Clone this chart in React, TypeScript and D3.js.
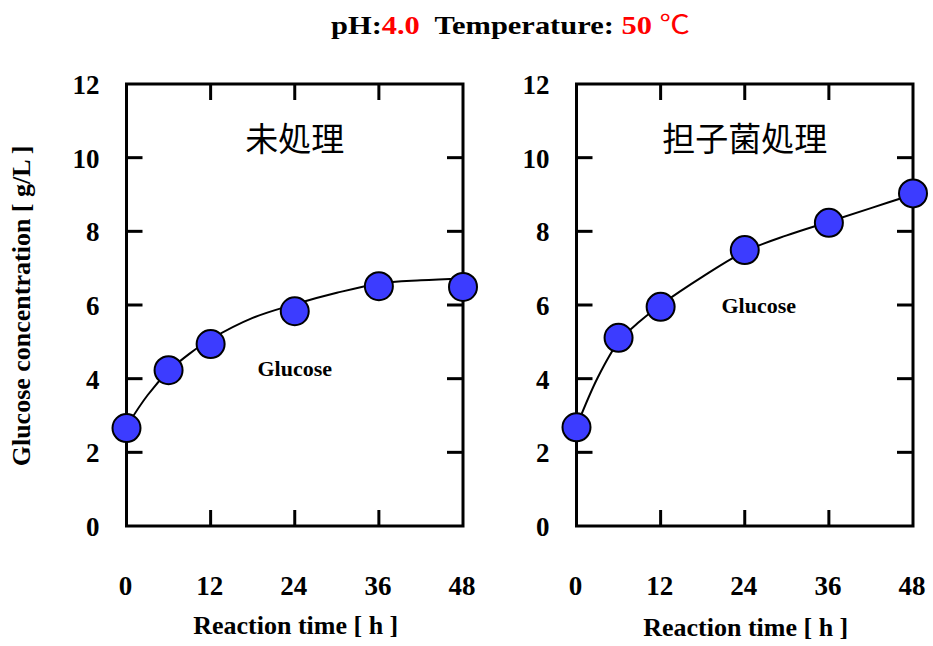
import React from "react";
import * as d3 from "d3";

// measured hours and glucose (g/L)
const hours = [0, 6, 12, 24, 36, 48];
const untreated = [2.66, 4.23, 4.94, 5.83, 6.51, 6.49];
const basidio = [2.68, 5.11, 5.95, 7.49, 8.23, 9.03];

// fitted curves
const fitHours = [0, 3, 6, 9, 12, 18, 24, 30, 36, 42, 48];
const untreatedFit = [2.7, 3.55, 4.2, 4.68, 5.07, 5.65, 6.02, 6.33, 6.58, 6.67, 6.72];
const basidioFit = [2.7, 4.02, 5.0, 5.55, 6.0, 6.77, 7.45, 7.89, 8.26, 8.63, 9.0];

const xTicks = [0, 12, 24, 36, 48];
const yTicks = [0, 2, 4, 6, 8, 10, 12];
const panelTitles = ["未処理", "担子菌処理"];

const W = 933;
const H = 646;
const serif = "'Liberation Serif', 'Times New Roman', serif";
const cjk = "'Noto Sans CJK JP', sans-serif";

const panels = [
  { title: panelTitles[0], left: 126.5, values: untreated, fit: untreatedFit, label: [24, 4.07], axisTitleY: 634 },
  { title: panelTitles[1], left: 576.5, values: basidio, fit: basidioFit, label: [26, 5.78], axisTitleY: 636 },
];

const Panel = ({ p }) => {
  const x = d3.scaleLinear().domain([0, 48]).range([p.left, p.left + 336.5]);
  const y = d3.scaleLinear().domain([0, 12]).range([526, 84]);
  const line = d3
    .line()
    .x((d, i) => x(fitHours[i]))
    .y(d => y(d))
    .curve(d3.curveCatmullRom);
  const [x0, x1] = x.range();
  const [y0, y1] = y.range();
  const tickLen = 16;

  return (
    <g>
      <rect x={x0} y={y1} width={x1 - x0} height={y0 - y1} fill="none" stroke="#000" strokeWidth={3} />
      {xTicks.slice(1, -1).map(t => (
        <g key={"xt" + t} stroke="#000" strokeWidth={3}>
          <line x1={x(t)} x2={x(t)} y1={y0} y2={y0 - tickLen} />
          <line x1={x(t)} x2={x(t)} y1={y1} y2={y1 + tickLen} />
        </g>
      ))}
      {yTicks.slice(1, -1).map(t => (
        <g key={"yt" + t} stroke="#000" strokeWidth={3}>
          <line x1={x0} x2={x0 + tickLen} y1={y(t)} y2={y(t)} />
          <line x1={x1} x2={x1 - tickLen} y1={y(t)} y2={y(t)} />
        </g>
      ))}
      {xTicks.map(t => (
        <text key={"xl" + t} x={x(t) - 1} y={y0 + 60} textAnchor="middle" dominantBaseline="central"
          fontFamily={serif} fontWeight="bold" fontSize={27}>{t}</text>
      ))}
      {yTicks.map(t => (
        <text key={"yl" + t} x={x0 - 27} y={y(t) + 1} textAnchor="end" dominantBaseline="central"
          fontFamily={serif} fontWeight="bold" fontSize={27}>{t}</text>
      ))}
      <path d={line(p.fit)} fill="none" stroke="#000" strokeWidth={2} />
      {p.values.map((v, i) => (
        <circle key={i} cx={x(hours[i])} cy={y(v)} r={14} fill="#3c3cff" stroke="#000" strokeWidth={2} />
      ))}
      <text x={x(24)} y={y(10.56)} textAnchor="middle" dominantBaseline="central"
        fontFamily={cjk} fontSize={33}>{p.title}</text>
      <text x={x(p.label[0])} y={y(p.label[1])} textAnchor="middle"
        fontFamily={serif} fontWeight="bold" fontSize={22}>Glucose</text>
      <text x={x(24) + 1} y={p.axisTitleY} textAnchor="middle"
        fontFamily={serif} fontWeight="bold" fontSize={26}>Reaction time [ h ]</text>
    </g>
  );
};

const App = () => (
  <svg width={W} height={H} style={{ position: "absolute", left: 0, top: 0, background: "#fff" }}>
    <text x={510.5} y={34} textAnchor="middle" fontFamily={serif} fontWeight="bold" fontSize={26}
      textLength={359} lengthAdjust="spacingAndGlyphs">
      <tspan>pH:</tspan>
      <tspan fill="#ff0000">4.0</tspan>
      <tspan xmlSpace="preserve">  Temperature: </tspan>
      <tspan fill="#ff0000">50 </tspan>
      <tspan fill="#ff0000" fontWeight="normal" fontFamily={cjk}>℃</tspan>
    </text>
    <text transform="translate(21,306) rotate(-90)" textAnchor="middle" dominantBaseline="central"
      fontFamily={serif} fontWeight="bold" fontSize={26}>Glucose concentration [ g/L ]</text>
    {panels.map(p => <Panel key={p.title} p={p} />)}
  </svg>
);

export default App;
